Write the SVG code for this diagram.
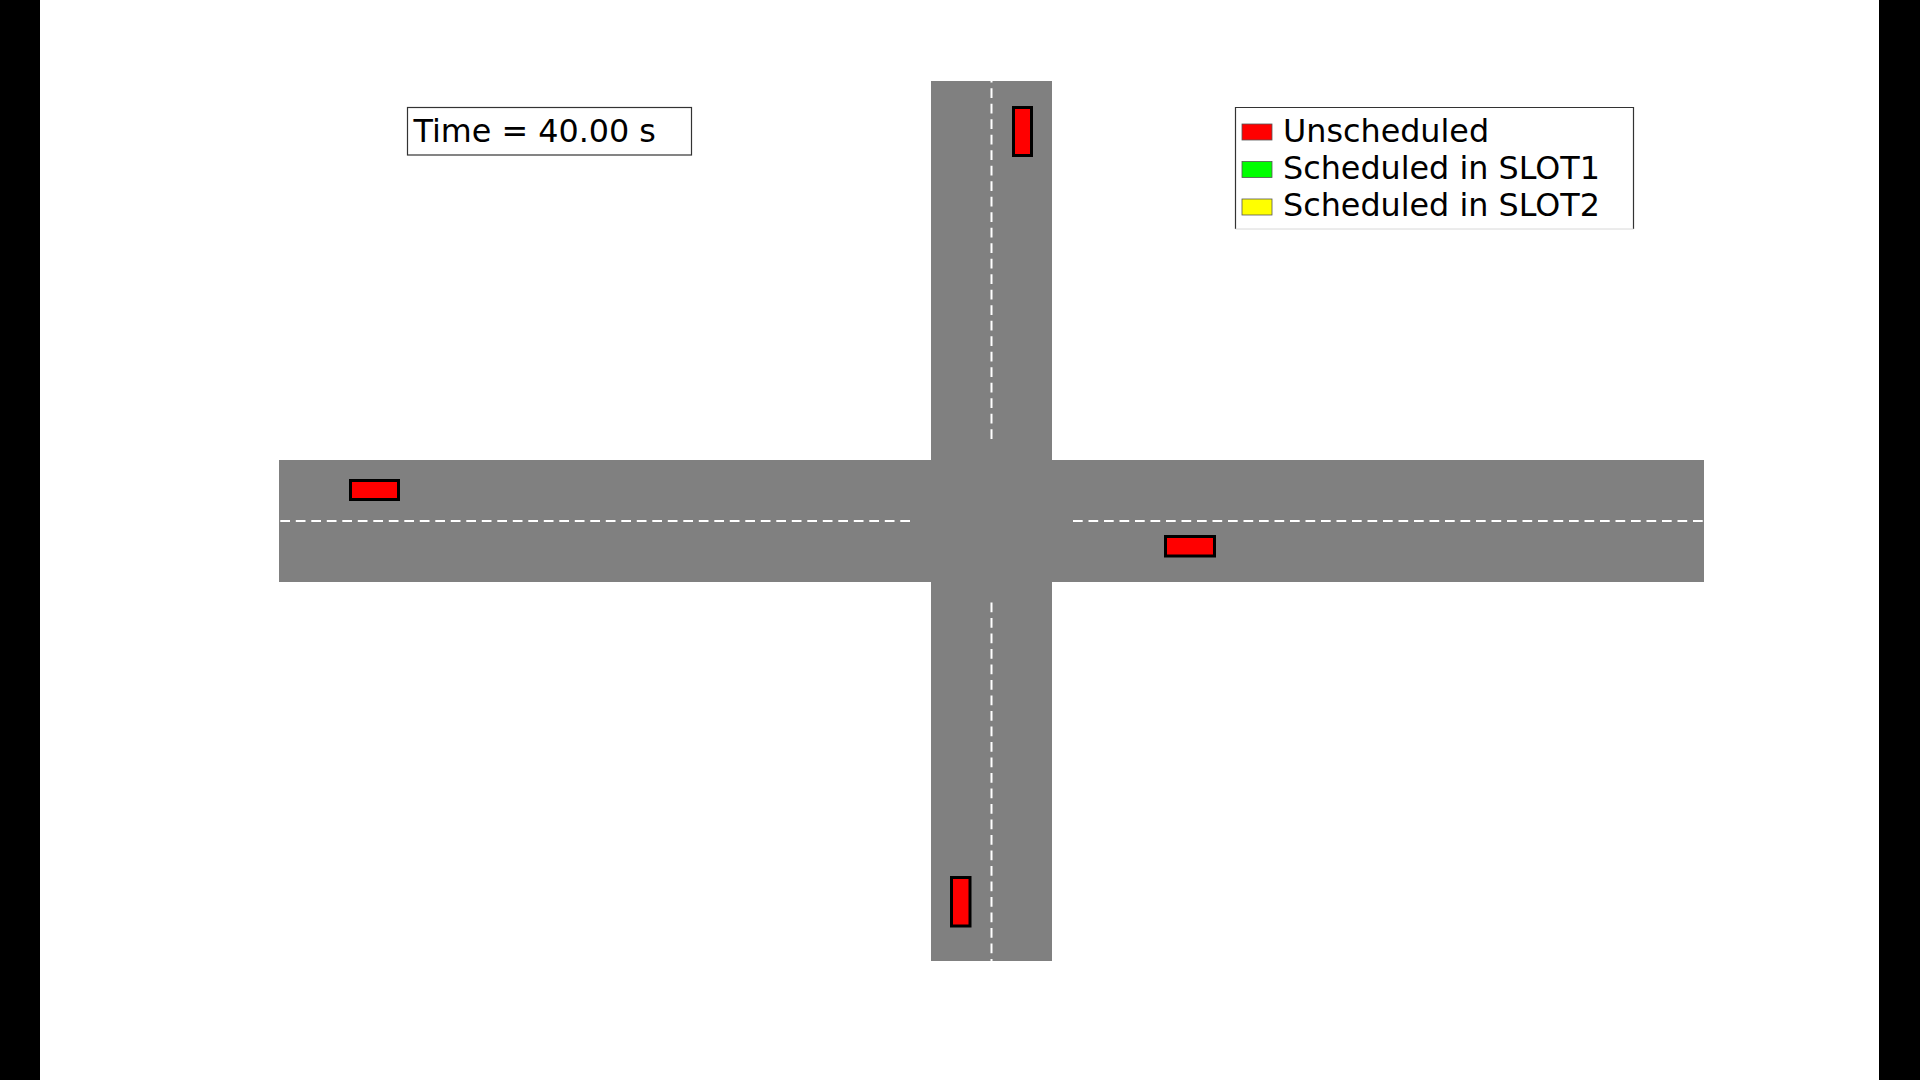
<svg xmlns="http://www.w3.org/2000/svg" width="1920" height="1080" viewBox="0 0 1920 1080">
<style>
.road{fill:#808080}
.lane{stroke:#ffffff;stroke-width:2;stroke-dasharray:9.7 5.8;fill:none}
.car{fill:#ff0000;stroke:#000000;stroke-width:3}
.txt{font-family:"DejaVu Sans","Liberation Sans",sans-serif;font-size:31.8px;fill:#000000}
</style>
<rect x="0" y="0" width="1920" height="1080" fill="#ffffff"/>
<rect x="0" y="0" width="40" height="1080" fill="#000000"/>
<rect x="1879" y="0" width="41" height="1080" fill="#000000"/>
<g id="roads">
<rect class="road" x="279" y="460" width="1425" height="122"/>
<rect class="road" x="931" y="81" width="121" height="880"/>
</g>
<g id="lanes">
<line class="lane" x1="910" y1="521" x2="279" y2="521"/>
<line class="lane" x1="1073" y1="521" x2="1704" y2="521"/>
<line class="lane" x1="991.5" y1="439" x2="991.5" y2="81"/>
<line class="lane" x1="991.5" y1="602.5" x2="991.5" y2="961"/>
</g>
<g id="car-north"><rect class="car" x="1013.5" y="107.5" width="18" height="48"/></g>
<g id="car-west"><rect class="car" x="350.5" y="480.5" width="48" height="19"/></g>
<g id="car-east"><rect class="car" x="1165.5" y="536.5" width="49" height="19.5"/></g>
<g id="car-south"><rect class="car" x="951.5" y="877.5" width="18.5" height="48.5"/></g>
<g id="time-box">
<rect x="407.5" y="107.5" width="284" height="47.5" fill="#ffffff" stroke="#333333" stroke-width="1.2"/>
<text class="txt" x="413.5" y="141.5">Time = 40.00 s</text>
</g>
<g id="legend">
<path d="M1235.5 229 V107.5 H1633.5 V229" fill="#ffffff" stroke="#333333" stroke-width="1.2"/>
<line x1="1235.5" y1="229" x2="1633.5" y2="229" stroke="#d8d8d8" stroke-width="1"/>
<rect x="1242" y="124" width="30" height="16" fill="#ff0000" stroke="#555555" stroke-width="0.8"/>
<rect x="1242" y="161.5" width="30" height="16" fill="#00ff00" stroke="#555555" stroke-width="0.8"/>
<rect x="1242" y="199" width="30" height="16" fill="#ffff00" stroke="#555555" stroke-width="0.8"/>
<text class="txt" x="1283" y="141.5">Unscheduled</text>
<text class="txt" x="1283" y="178.5">Scheduled in SLOT1</text>
<text class="txt" x="1283" y="215.5">Scheduled in SLOT2</text>
</g>
</svg>
